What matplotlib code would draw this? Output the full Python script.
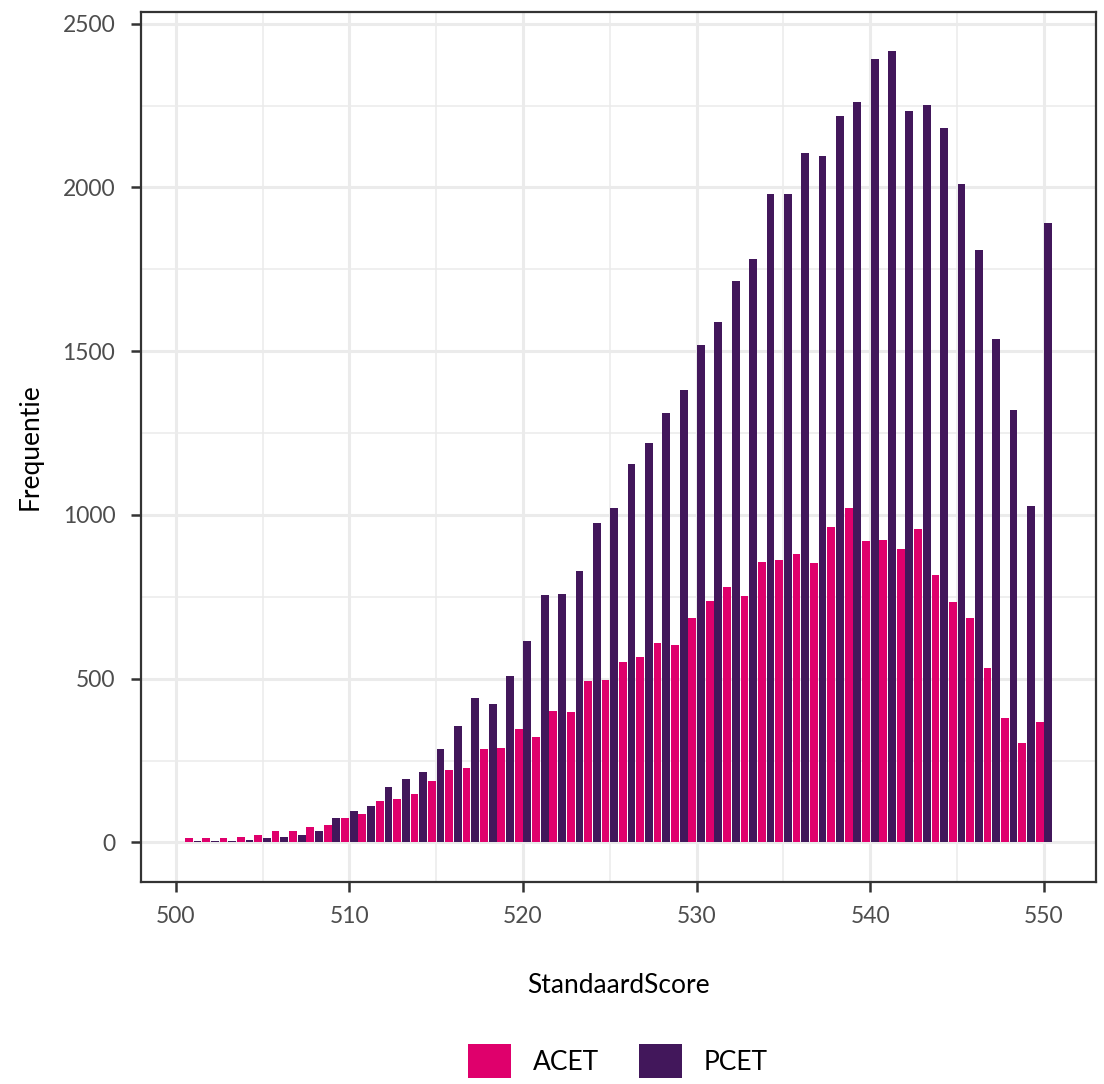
import matplotlib.pyplot as plt
from matplotlib.patches import Patch
from matplotlib.ticker import MultipleLocator
import numpy as np

# scores and counts
scores = np.arange(501, 551)
acet = [12, 12, 12, 15, 24, 36, 36, 46, 52, 76,
        88, 125, 134, 149, 189, 222, 228, 286, 289, 347,
        323, 402, 399, 493, 496, 551, 566, 609, 603, 685,
        737, 780, 752, 856, 862, 880, 853, 962, 1020, 920,
        923, 895, 956, 816, 734, 685, 533, 381, 305, 369]
pcet = [4, 3, 3, 6, 12, 18, 24, 34, 76, 95,
        112, 168, 195, 216, 284, 356, 442, 423, 509, 615,
        755, 758, 828, 975, 1020, 1155, 1220, 1312, 1382, 1520,
        1590, 1715, 1782, 1980, 1980, 2105, 2095, 2217, 2260, 2391,
        2418, 2232, 2251, 2181, 2010, 1809, 1538, 1319, 1026, 1891]
groups = ['ACET', 'PCET']
colors = ['#DF006C', '#42175B']

plt.rcParams['font.family'] = ['Lato', 'DejaVu Sans']

fig = plt.figure(figsize=(11.04, 10.84), dpi=100)
ax = fig.add_axes([0.1277, 0.1864, 0.8651, 0.8025])

ax.bar(scores - 0.25, acet, width=0.45, color=colors[0], zorder=3)
ax.bar(scores + 0.25, pcet, width=0.45, color=colors[1], zorder=3)

ax.set_xlim(498, 553)
ax.set_ylim(-120.75, 2535.75)
ax.xaxis.set_major_locator(MultipleLocator(10))
ax.xaxis.set_minor_locator(MultipleLocator(5))
ax.yaxis.set_major_locator(MultipleLocator(500))
ax.yaxis.set_minor_locator(MultipleLocator(250))

ax.grid(which='major', color='#EBEBEB', linewidth=2.2, zorder=0)
ax.grid(which='minor', color='#EBEBEB', linewidth=1.1, zorder=0)
ax.set_axisbelow(True)

for s in ax.spines.values():
    s.set_color('#333333')
    s.set_linewidth(1.6)

ax.tick_params(which='major', length=7.5, width=1.8, color='#333333',
               labelsize=16.5, labelcolor='#4D4D4D')
ax.tick_params(axis='y', pad=11)
ax.tick_params(axis='x', pad=10)
ax.tick_params(which='minor', length=0)

ax.set_xlabel('StandaardScore', fontsize=19, labelpad=33)
ax.set_ylabel('Frequentie', fontsize=19, labelpad=14)

handles = [Patch(facecolor=c, label=g) for c, g in zip(colors, groups)]
fig.legend(handles=handles, loc='center', ncol=2, frameon=False,
           fontsize=19, handlelength=1.63, handleheight=1.63,
           columnspacing=1.5, handletextpad=0.83,
           bbox_to_anchor=(0.5595, 0.0212))

fig.savefig('out.png', dpi=100)
